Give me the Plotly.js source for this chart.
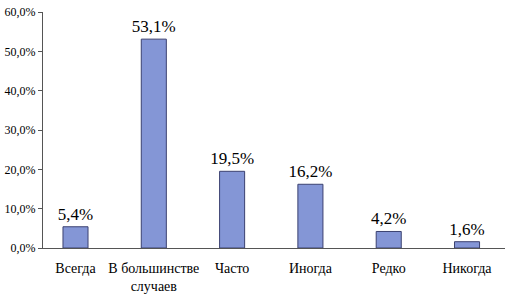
<!DOCTYPE html>
<html><head><meta charset="utf-8">
<script src="https://cdn.plot.ly/plotly-3.0.1.min.js"></script>
<style>html,body{margin:0;padding:0;background:#fff}#c{width:512px;height:295px}</style>
</head><body><div id="c"></div>
<script>
const categories = ["Всегда", "В большинстве<br>случаев", "Часто", "Иногда", "Редко", "Никогда"];
const values = [5.4, 53.1, 19.5, 16.2, 4.2, 1.6];
const labels = ["5,4%", "53,1%", "19,5%", "16,2%", "4,2%", "1,6%"];
const yTickVals = [0, 10, 20, 30, 40, 50, 60];
const yTickText = ["0,0%", "10,0%", "20,0%", "30,0%", "40,0%", "50,0%", "60,0%"];
const xIdx = categories.map((_, i) => i);

const font = "Liberation Serif, Times New Roman, serif";
Plotly.newPlot("c", [{
  type: "bar",
  x: xIdx,
  y: values,
  width: 0.32,
  text: labels,
  textposition: "outside",
  constraintext: "none",
  cliponaxis: false,
  textfont: {family: font, size: 17, color: "#000"},
  marker: {color: "#8496d6", line: {color: "#3b4170", width: 1}},
  hoverinfo: "none"
}], {
  width: 512, height: 295,
  margin: {l: 43, r: 7, t: 12, b: 47},
  paper_bgcolor: "#fff", plot_bgcolor: "#fff",
  showlegend: false,
  bargap: 0,
  font: {family: font},
  xaxis: {
    range: [-0.415, 5.485],
    tickvals: xIdx, ticktext: categories,
    showline: true, linecolor: "#555", linewidth: 1,
    ticks: "", showgrid: false, zeroline: false,
    ticklabelstandoff: 7,
    tickfont: {family: font, size: 14, color: "#000"}
  },
  yaxis: {
    range: [0, 60],
    tickvals: yTickVals, ticktext: yTickText,
    showline: true, linecolor: "#555", linewidth: 1,
    ticks: "outside", ticklen: 4, tickcolor: "#555",
    showgrid: false, zeroline: false,
    tickfont: {family: font, size: 12, color: "#000"}
  }
}, {staticPlot: true});
</script></body></html>
